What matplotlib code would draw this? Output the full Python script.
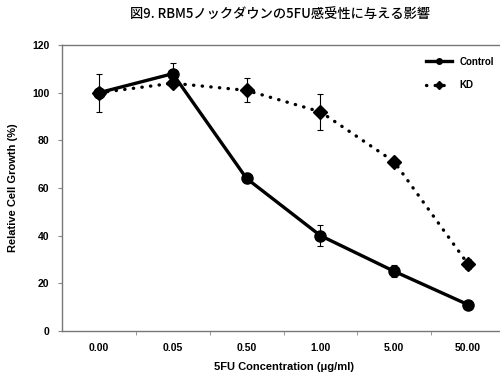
import matplotlib
matplotlib.use("Agg")
import matplotlib.pyplot as plt
from matplotlib.lines import Line2D
import numpy as np

plt.rcParams['font.family'] = ['Liberation Sans', 'Noto Sans CJK JP', 'DejaVu Sans']

concentrations = ["0.00", "0.05", "0.50", "1.00", "5.00", "50.00"]
control = [100, 108, 64, 40, 25, 11]
control_err = [8, 4.5, 2, 4.5, 2.5, 1]
kd = [100, 104, 101, 92, 71, 28]
kd_err = [1, 1.5, 5, 7.5, 1.5, 2]

dots = (0, (0.1, 2.5))

fig = plt.figure(figsize=(5, 3.76), dpi=100)
ax = fig.add_axes([0.124, 0.12, 0.886, 0.76])

x = np.arange(len(concentrations))
ax.errorbar(x, control, yerr=control_err, color="black", lw=2.4, marker="o", ms=8,
            ecolor="black", elinewidth=0.8, capsize=2.5, capthick=0.8)
ax.errorbar(x, kd, yerr=kd_err, color="black", lw=2.4, ls=dots, marker="D", ms=7,
            ecolor="black", elinewidth=0.8, capsize=2.5, capthick=0.8,
            dash_capstyle="round")

ax.set_xlim(-0.5, 5.5)
ax.set_ylim(0, 120)
ax.set_yticks(range(0, 121, 20))
ax.set_xticks(x)
ax.set_xticklabels(concentrations)
ax.set_xticks(np.arange(0.5, 5, 1), minor=True)
ax.tick_params(axis="x", which="major", length=0, pad=9)
ax.tick_params(axis="x", which="minor", length=3, color="#888888")
ax.tick_params(axis="y", length=3, color="#888888", pad=6)
for lab in ax.get_xticklabels() + ax.get_yticklabels():
    lab.set_fontsize(7.5)
    lab.set_fontweight("bold")
for s in ["left", "bottom", "top"]:
    ax.spines[s].set_color("#777777")
    ax.spines[s].set_linewidth(1)
ax.spines["right"].set_visible(False)

ax.set_xlabel("5FU Concentration (μg/ml)", fontsize=8, fontweight="bold", labelpad=6)
ax.set_ylabel("Relative Cell Growth (%)", fontsize=8, fontweight="bold", labelpad=10)

handles = [
    Line2D([], [], color="black", lw=2.4, marker="o", ms=4),
    Line2D([], [], color="black", lw=2.4, ls=dots, marker="D", ms=4, dash_capstyle="round"),
]
ax.legend(handles, ["Control", "KD"], loc="upper right", bbox_to_anchor=(0.995, 0.99),
          frameon=False, handlelength=2.6, labelspacing=1.4,
          prop={"weight": "bold", "size": 7})

fig.text(0.56, 0.962, "図9. RBM5ノックダウンの5FU感受性に与える影響", ha="center", va="center",
         fontsize=9.5, fontweight="medium", family=["Noto Sans CJK JP", "DejaVu Sans"])

fig.savefig("out.png", dpi=100)
